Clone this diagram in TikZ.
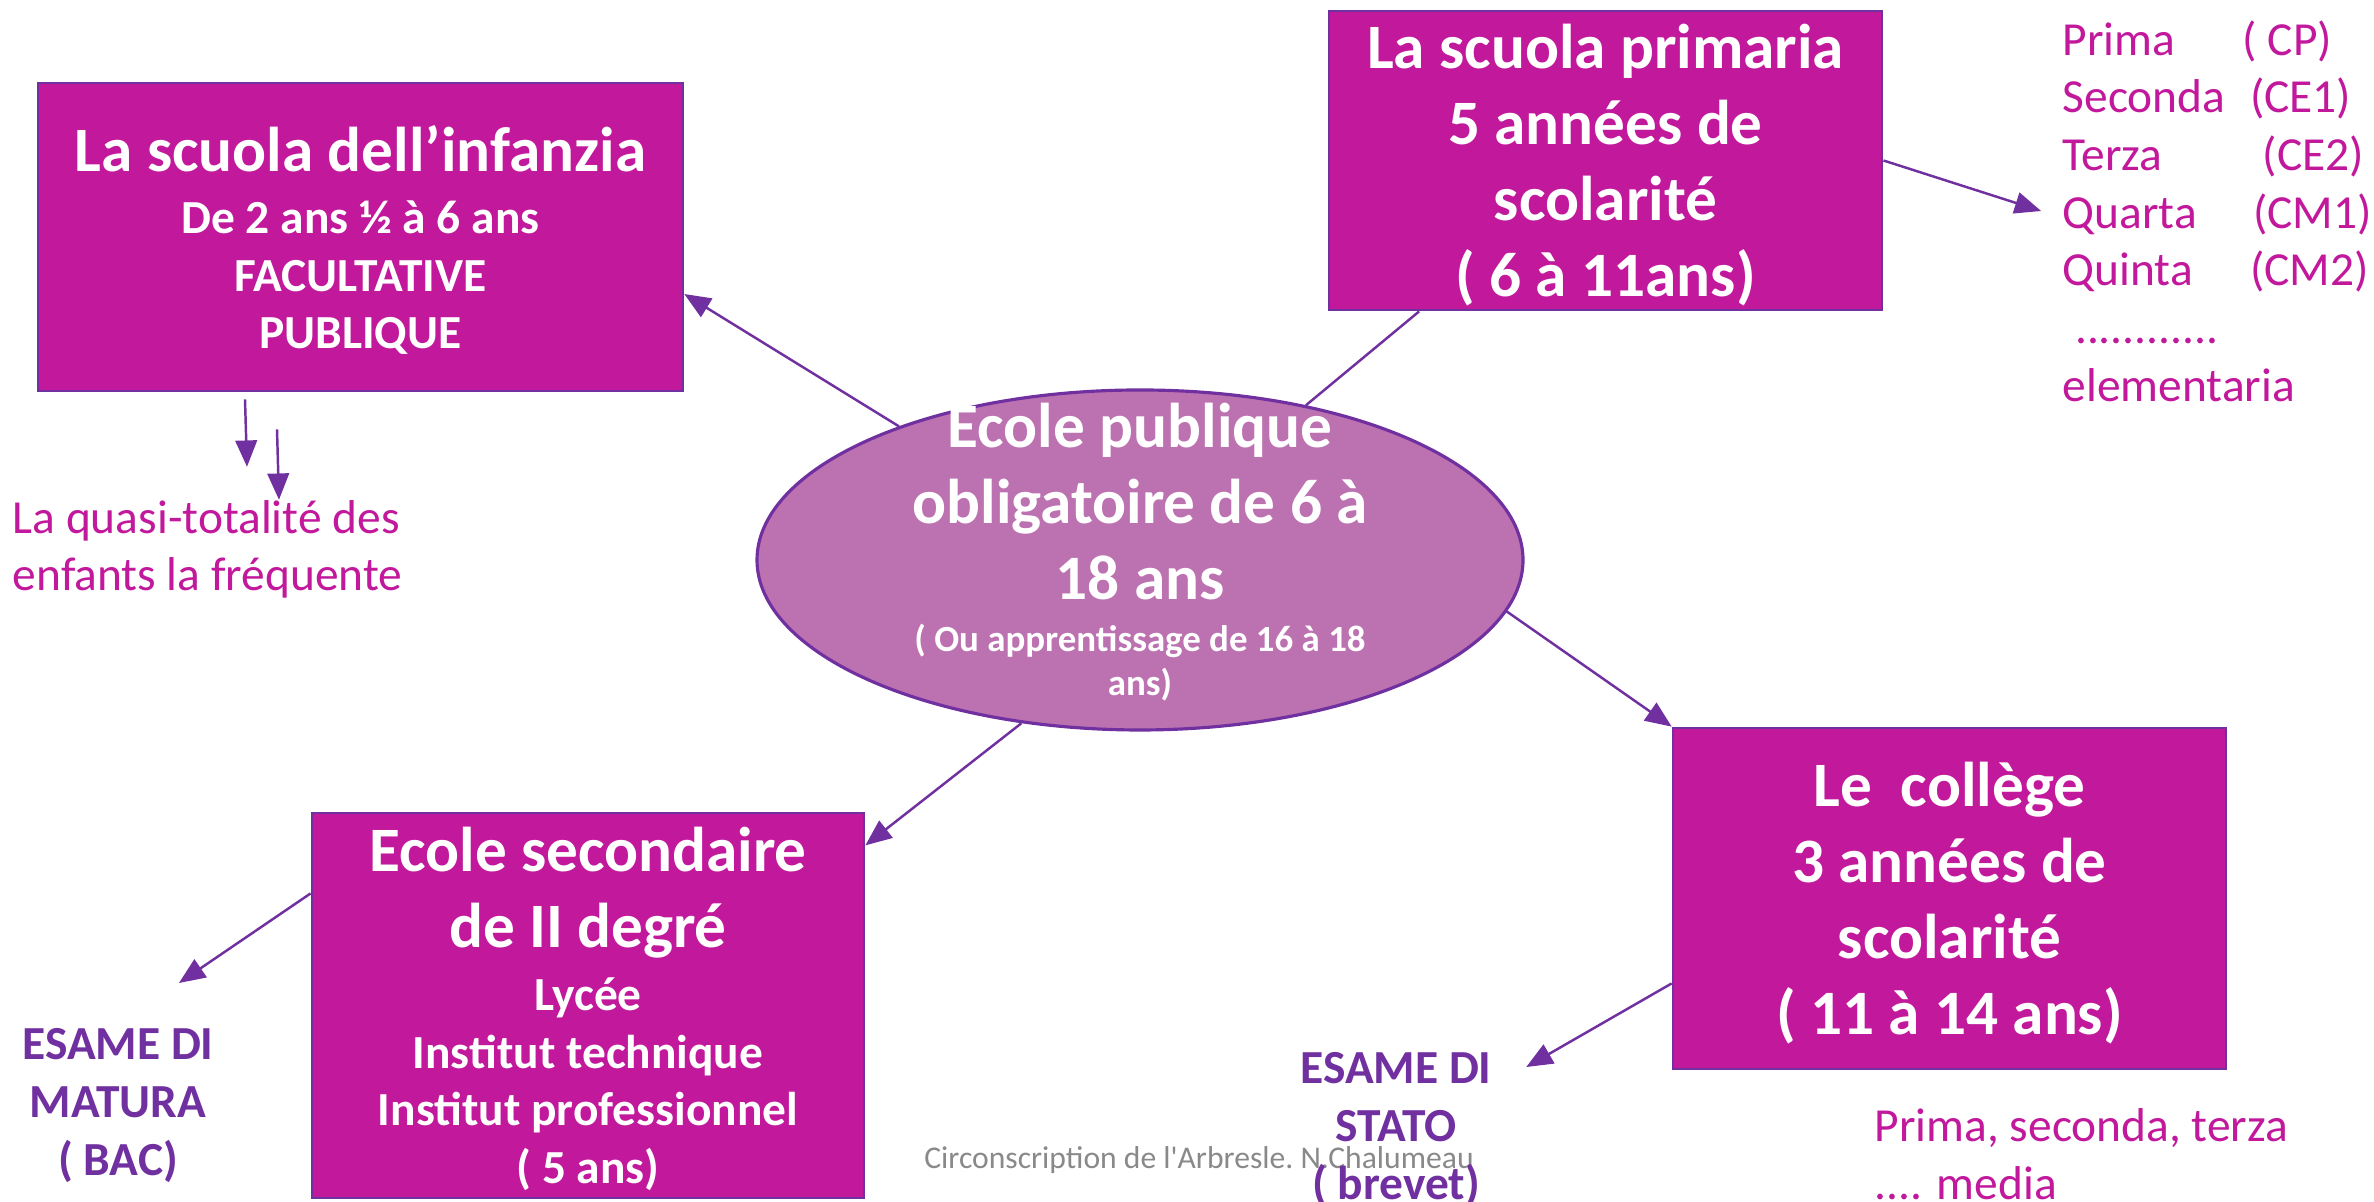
\documentclass[tikz,border=0pt]{standalone}
\usepackage{fontspec}
\setmainfont{Carlito}
\usepackage{tikz}
\usetikzlibrary{shapes.geometric, arrows, positioning, calc}
\definecolor{fucsia}{RGB}{193,24,156}
\definecolor{viola}{RGB}{112,48,160}
\definecolor{malva}{RGB}{188,114,176}
\definecolor{grigio}{RGB}{137,137,137}
\newcommand{\grande}{\fontsize{18}{21.6}\selectfont}
\newcommand{\medio}{\fontsize{13.5}{16.4}\selectfont}
\newcommand{\piccolo}{\fontsize{10.5}{12.5}\selectfont}
\tikzstyle{scuola} = [rectangle, draw=viola, line width=0.8pt, fill=fucsia, text=white, align=center, inner sep=0pt]
\tikzstyle{ovale} = [ellipse, draw=viola, line width=0.9pt, fill=malva, text=white, align=center, inner xsep=0pt, inner ysep=-0.6cm, minimum width=7.66cm, minimum height=3.40cm, font=\bfseries\grande]
\tikzstyle{nota} = [align=left, inner sep=0pt, text=fucsia, font=\medio]
\tikzstyle{esame} = [align=center, inner sep=0pt, text=viola, font=\bfseries\medio]
\tikzstyle{arrow} = [->, >=triangle 45, draw=viola, line width=0.7pt]
\tikzstyle{linea} = [draw=viola, line width=0.7pt]

\begin{document}
\begin{tikzpicture}
\useasboundingbox (0,0) rectangle (23.74,12.02);

% Definizione dei nodi
\node (footer) [text=grigio, font=\fontsize{9}{11}\selectfont, inner sep=0pt] at (11.99,0.42) {Circonscription de l\textquotesingle Arbresle.\ N.Chalumeau};

\node (ecole) [ovale, text depth=0.30cm] at (11.40,6.42) {École publique\\obligatoire de 6 à\\18 ans\\[-6.6pt]{\piccolo ( Ou apprentissage de 16 à 18}\\[-9.1pt]{\piccolo ans)}};

\node (infanzia) [scuola, minimum width=6.45cm, minimum height=3.08cm, font=\bfseries\medio, text depth=-0.06cm] at (3.605,9.65) {{\grande La scuola dell’infanzia}\\[1.4pt]De 2 ans ½ à 6 ans\\FACULTATIVE\\PUBLIQUE};
\node (primaria) [scuola, minimum width=5.53cm, minimum height=2.99cm, font=\bfseries\grande, text depth=0pt] at (16.055,10.415) {La scuola primaria\\5 années de\\scolarité\\( 6 à 11ans)};
\node (college) [scuola, minimum width=5.53cm, minimum height=3.41cm, font=\bfseries\grande, text depth=0pt] at (19.495,3.035) {Le\ \ collège\\3 années de\\scolarité\\( 11 à 14 ans)};
\node (secondaire) [scuola, minimum width=5.52cm, minimum height=3.85cm, font=\bfseries\medio, text depth=-0.11cm] at (5.88,1.965) {{\grande Ecole secondaire}\\[5.2pt]{\grande de II degré}\\[1.4pt]Lycée\\Institut technique\\Institut professionnel\\( 5 ans)};

\node (quasi) [nota, anchor=west] at (0.12,6.525) {La quasi-totalité des\\enfants la fréquente};
\node (lista) [nota, anchor=west, inner xsep=0.21cm] at (20.41,9.91) {\makebox[51.2pt][l]{Prima}( CP)\\\makebox[53.3pt][l]{Seconda}(CE1)\\\makebox[56.9pt][l]{Terza}(CE2)\\\makebox[54.2pt][l]{Quarta}(CM1)\\\makebox[53.3pt][l]{Quinta}(CM2)\\\hspace{3.5pt}............\\elementaria};
\node (media) [nota, anchor=north west] at (18.74,0.94) {Prima, seconda, terza\\.... media};

\node (matura) [esame, anchor=north] at (1.18,1.74) {ESAME DI\\MATURA\\( BAC)};
\node (stato) [esame, anchor=north] at (13.96,1.50) {ESAME DI\\STATO\\( brevet)};

% Connessione tra i nodi
\draw [arrow] (ecole.151.4) -- (infanzia.-10.7);
\draw [linea] (ecole.43.5) -- (primaria.219.8);
\draw [arrow] (primaria.east) -- (lista.west);
\draw [arrow] (ecole.-8.1) -- (college.north west);
\draw [arrow] (ecole.234.5) -- (secondaire.30.6);
\draw [arrow] (secondaire.158.5) -- ($(matura.north)+(0.61,0.45)$);
\draw [arrow] (college.197.2) -- ($(stato.north east)+(0.34,-0.15)$);
\draw [arrow] ($(infanzia.south)+(-1.155,-0.07)$) -- ($(quasi.north west)+(2.35,0.33)$);
\draw [arrow] ($(infanzia.south)+(-0.835,-0.37)$) -- ($(quasi.north west)+(2.67,0)$);

\end{tikzpicture}
\end{document}
